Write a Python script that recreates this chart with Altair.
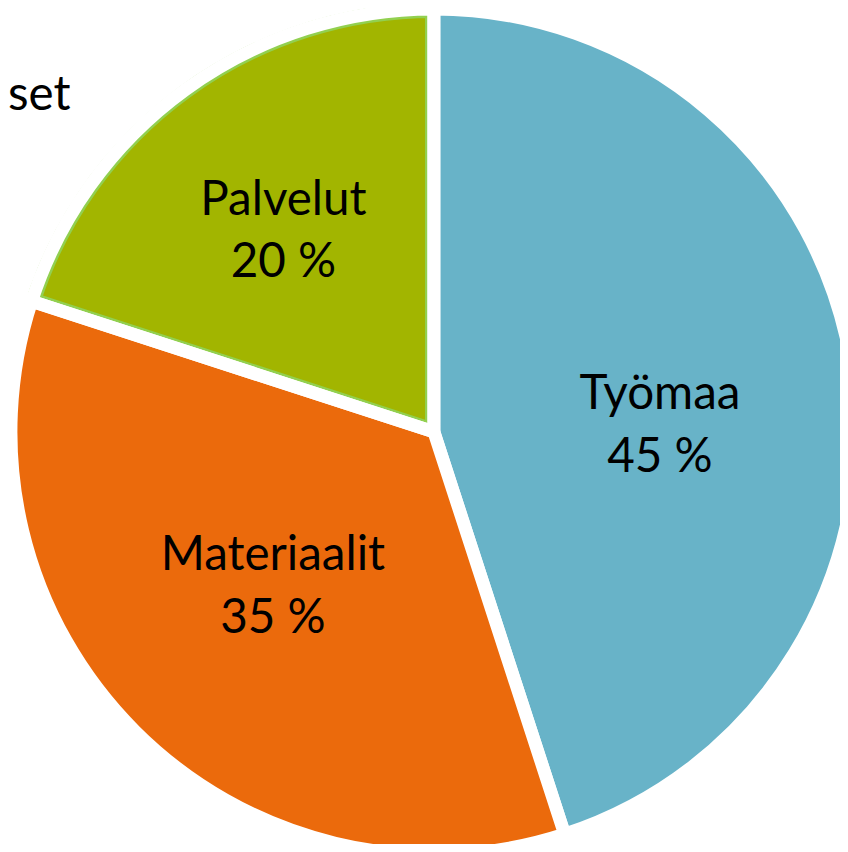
import altair as alt
import pandas as pd

# ---- data ----
categories = ["Työmaa", "Materiaalit", "Palvelut"]
shares = [45, 35, 20]
order = [1, 2, 3]
colors = ["#68B3C8", "#EB6A0C", "#A2B500"]
corner_text = "set"

df = pd.DataFrame({"cat": categories, "value": shares, "ord": order})
df["label"] = [f"{c}\n{v} %" for c, v in zip(categories, shares)]

# ---- layout / style ----
W, H = 840, 836
CX, CY = 430, 424
R = 427
GAP = 13
BORDER = 2.5
FONT = "Lato"
FS = 48

theta_scale = alt.Scale(domain=[0, 100], range=[0, 6.283185307179586])
color_scale = alt.Scale(domain=categories, range=colors)

base = alt.Chart(df).transform_window(
    cum="sum(value)", sort=[alt.SortField("ord")], frame=[None, 0]
).transform_calculate(
    start="datum.cum - datum.value",
    mid="datum.cum - datum.value / 2",
)


def arcs(sel, **mark):
    return (
        base.transform_filter(alt.FieldOneOfPredicate(field="cat", oneOf=sel))
        .mark_arc(radius=R, **mark)
        .encode(
            x=alt.value(CX),
            y=alt.value(CY),
            theta=alt.Theta("start:Q", scale=theta_scale),
            theta2="cum:Q",
            color=alt.Color("cat:N", scale=color_scale, legend=None),
        )
    )


def label(cat, radius, dx=0, dy=0):
    return (
        base.transform_filter(alt.FieldEqualPredicate(field="cat", equal=cat))
        .mark_text(
            radius=radius, dx=dx, dy=dy, font=FONT, fontSize=FS,
            lineBreak="\n", lineHeight=63, align="center", baseline="middle",
            color="black",
        )
        .encode(
            x=alt.value(CX),
            y=alt.value(CY),
            theta=alt.Theta("mid:Q", scale=theta_scale),
            text="label:N",
        )
    )


# Palvelut with light-green border underneath
l1 = arcs(["Palvelut"], stroke="#92D050", strokeWidth=GAP + 2 * BORDER, strokeJoin="round")
# other slices with white gap stroke
l2 = arcs(["Työmaa", "Materiaalit"], stroke="white", strokeWidth=GAP)
# white gap stroke over Palvelut
l3 = arcs(["Palvelut"], stroke="white", strokeWidth=GAP, fillOpacity=0)
# white ring to hide border outside the pie
ring = alt.Chart(pd.DataFrame({"a": [0]})).mark_arc(
    innerRadius=R + GAP / 2 - 0.5, outerRadius=R + 40, theta=0, theta2=6.2832
).encode(x=alt.value(CX), y=alt.value(CY), color=alt.value("white"))

t1 = label("Työmaa", 228, dx=3, dy=-1)
t2 = label("Materiaalit", 227, dx=-2, dy=-35)
t3 = label("Palvelut", 255, dx=-2, dy=-27)

corner = alt.Chart(pd.DataFrame({"t": [corner_text]})).mark_text(
    align="left", baseline="alphabetic", font=FONT, fontSize=FS, color="black"
).encode(x=alt.value(0), y=alt.value(99), text="t:N")

chart = (
    alt.layer(l1, l2, l3, ring, t1, t2, t3, corner)
    .properties(width=W, height=H, padding=0, autosize=alt.AutoSizeParams(type="none"), background="white")
    .configure_view(stroke=None)
)

chart.save("out.html", embed_options={"renderer": "svg", "actions": False})
